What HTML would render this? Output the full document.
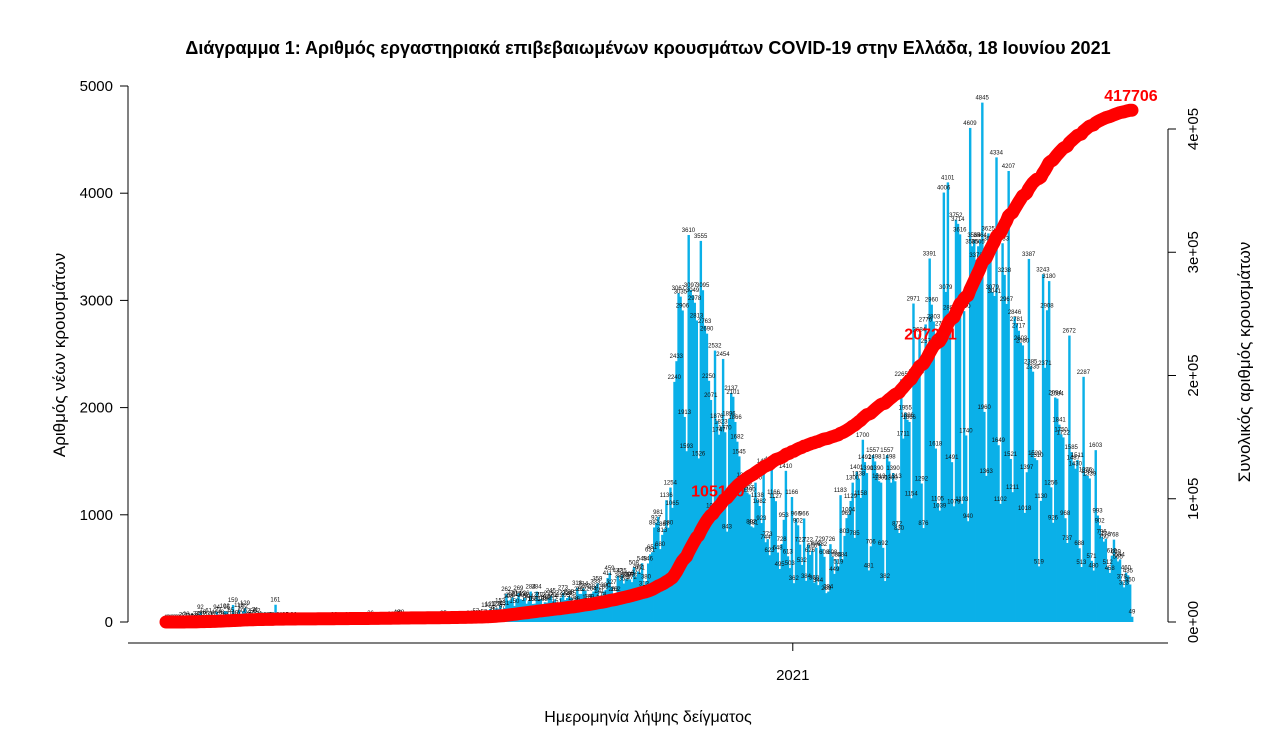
<!DOCTYPE html>
<html><head><meta charset="utf-8">
<style>
body{margin:0;background:#fff;}
svg{display:block;font-family:"Liberation Sans","DejaVu Sans",sans-serif;}
</style></head>
<body>
<svg id="chart" width="1284" height="744" viewBox="0 0 1284 744" xmlns="http://www.w3.org/2000/svg">
<text x="648" y="54" text-anchor="middle" font-size="18" font-weight="bold" fill="#000">Διάγραμμα 1: Αριθμός εργαστηριακά επιβεβαιωμένων κρουσμάτων COVID-19 στην Ελλάδα, 18 Ιουνίου 2021</text>
<g id="bars"></g>
<g id="vlabels" font-size="6" fill="#111" text-anchor="middle"></g>
<path id="cumline" fill="none" stroke="#ff0000" stroke-width="13" stroke-linecap="round" stroke-linejoin="round"/>
<g id="annots" font-size="16" font-weight="bold" fill="#ff0000"></g>
<g id="axes" stroke="#000" stroke-width="1"></g>
<g id="ticklabels" font-size="15" fill="#000"></g>
<text transform="translate(65,355) rotate(-90)" text-anchor="middle" font-size="17">Αριθμός νέων κρουσμάτων</text>
<text transform="translate(1250,362) rotate(-90)" text-anchor="middle" font-size="17">Συνολικός αριθμός κρουσμάτων</text>
<text x="648" y="722" text-anchor="middle" font-size="16">Ημερομηνία λήψης δείγματος</text>
</svg>
<script>
const feb2020=[1,0,1,0];
const mar2020=[2,0,2,0,22,14,28,11,16,5,10,34,33,92,46,31,27,61,15,31,46,94,71,48,26,102,95,31,65,159,40];
const apr2020=[29,113,60,102,129,62,20,37,56,71,62,31,13,25,15,14,25,22,10,161,8,21,18,12,25,18,13,10,22,15];
const may2020=[16,3,10,10,10,15,4,11,10,15,9,16,4,12,8,5,4,16,23,17,12,12,13,17,12,22,8,5,12,10,4];
const jun2020=[19,10,13,16,7,36,19,8,6,22,15,24,15,21,10,28,9,6,46,36,48,8,11,9,15,23,23,6,11,7];
const jul2020=[14,13,18,10,10,11,12,10,30,19,25,35,12,14,9,24,19,24,25,29,20,23,31,27,36,31,28,57,40,37,34];
const aug2020=[53,110,37,121,71,80,128,124,153,97,131,262,198,203,230,150,217,269,213,204,226,171,194,284,168,171,284,212,212,168,184];
const sep2020=[181,225,245,194,211,151,101,227,273,205,224,238,225,178,166,318,262,262,314,292,185,189,264,284,333,359,241,214,285,300];
const oct2020=[411,459,327,263,262,432,385,435,359,400,397,398,372,508,421,472,461,548,313,380,546,631,651,882,927,981,680,813,867,1136,880];
const nov2020=[1254,1065,2240,2433,3067,3035,2906,1913,1593,3610,3097,3049,2978,2813,1526,3555,3095,2763,2690,2250,2071,1040,2532,1876,1747,1823,2454,1770,843,1896];
const dec2020=[2137,2101,1866,1682,1545,1246,1325,1255,1207,1190,892,881,1300,1138,1082,923,1457,744,773,623,1476,1166,1127,648,495,728,953,1410,613,503,1166];
const jan2021=[362,966,902,722,532,966,384,722,626,666,368,692,344,729,682,608,269,284,726,608,449,584,519,1183,584,803,969,1004,1129,1300,785];
const feb2021=[1401,1338,1158,1700,1492,1390,481,706,1557,1498,1390,1313,1300,692,382,1557,1498,1300,1390,1313,872,830,2265,1711,1955,1886,1866,1154];
const mar2021=[2971,2290,2288,2684,1292,876,2776,2574,3391,2960,2803,1618,1105,1039,2736,4006,3079,4101,2888,1491,1079,3752,3714,3616,1103,2900,1740,940,4609,3505,3564];
const apr2021=[3378,3505,3564,4845,1960,1363,3625,3533,3079,3041,4334,1649,1102,3533,3238,2967,4207,1521,1211,2846,2781,2717,2603,2580,1018,1397,3387,2385,2335,1529];
const may2021=[1510,519,1130,3243,2371,2908,3180,1256,926,2094,2084,1841,1750,1722,968,737,2672,1585,1487,1430,1511,688,513,2287,1376,1362,1339,571,480,1603,993];
const jun2021=[902,796,750,776,512,458,619,768,609,565,584,378,323,460,435,350,49];
const leftTicks=[0,1000,2000,3000,4000,5000];
const rightTicks=[0,100000,200000,300000,400000];
const rightTickLabels=["0e+00","1e+05","2e+05","3e+05","4e+05"];
const xTickIndex=[310];
const xTickLabels=["2021"];
const annotIndex=[273,378,477];
const annotLabels=["105150","207211","417706"];

const daily=[].concat(feb2020,mar2020,apr2020,may2020,jun2020,jul2020,aug2020,sep2020,oct2020,nov2020,dec2020,jan2021,feb2021,mar2021,apr2021,may2021,jun2021);
const NS="http://www.w3.org/2000/svg";
const X0=165,X1=1133,Y0=622;
const n=daily.length;
const bw=(X1-X0)/n;
function xs(i){return X0+i*bw;}
function yl(v){return Y0-v*(536/5000);}
function yr(c){return Y0-c*(493/400000);}
const bars=document.getElementById('bars'),vl=document.getElementById('vlabels');
let cum=[],s=0;
daily.forEach((v,i)=>{
  s+=v;cum.push(s);
  const r=document.createElementNS(NS,'rect');
  
  
  r.setAttribute('x',xs(i));r.setAttribute('y',yl(v));
  r.setAttribute('width',bw+0.4);r.setAttribute('height',Y0-yl(v));
  r.setAttribute('fill','#0ab0e8');
  bars.appendChild(r);
  const t=document.createElementNS(NS,'text');
  
  
  t.setAttribute('x',xs(i)+bw/2);t.setAttribute('y',yl(v)-3);
  t.textContent=v;vl.appendChild(t);
});
let d='';
cum.forEach((c,i)=>{d+=(i?'L':'M')+(xs(i)+bw/2).toFixed(2)+','+yr(c).toFixed(2);});
document.getElementById('cumline').setAttribute('d',d);
const an=document.getElementById('annots');
annotIndex.forEach((idx,k)=>{
  const t=document.createElementNS(NS,'text');
  
  
  const i=Math.min(idx,n-1);
  t.setAttribute('x',xs(i));
  t.setAttribute('y',yr(cum[i])-(k==2?9:10));
  t.setAttribute('text-anchor','middle');
  t.textContent=annotLabels[k];an.appendChild(t);
});
const ax=document.getElementById('axes'),tl=document.getElementById('ticklabels');
function line(x1,y1,x2,y2,name){const l=document.createElementNS(NS,'line');
  
  
  l.setAttribute('x1',x1);l.setAttribute('y1',y1);l.setAttribute('x2',x2);l.setAttribute('y2',y2);ax.appendChild(l);}
function txt(x,y,s,anchor,rot,name){const t=document.createElementNS(NS,'text');
  
  
  if(rot){t.setAttribute('transform','translate('+x+','+y+') rotate(-90)');}else{t.setAttribute('x',x);t.setAttribute('y',y);}
  t.setAttribute('text-anchor',anchor);t.textContent=s;tl.appendChild(t);}
line(128,yl(leftTicks[0]),128,yl(leftTicks[leftTicks.length-1]),'left-axis-line');
leftTicks.forEach(v=>{line(120,yl(v),128,yl(v),'left-tick');txt(113,yl(v)+5,String(v),'end',false,'left-tick-label');});
line(1168,yr(rightTicks[0]),1168,yr(rightTicks[rightTicks.length-1]),'right-axis-line');
rightTicks.forEach((v,k)=>{line(1168,yr(v),1176,yr(v),'right-tick');txt(1198,yr(v),rightTickLabels[k],'middle',true,'right-tick-label');});
line(128,643,1168,643,'x-axis-line');
xTickIndex.forEach((i,k)=>{line(xs(i),643,xs(i),651,'x-tick');txt(xs(i),680,xTickLabels[k],'middle',false,'x-tick-label');});
</script>
</body></html>
